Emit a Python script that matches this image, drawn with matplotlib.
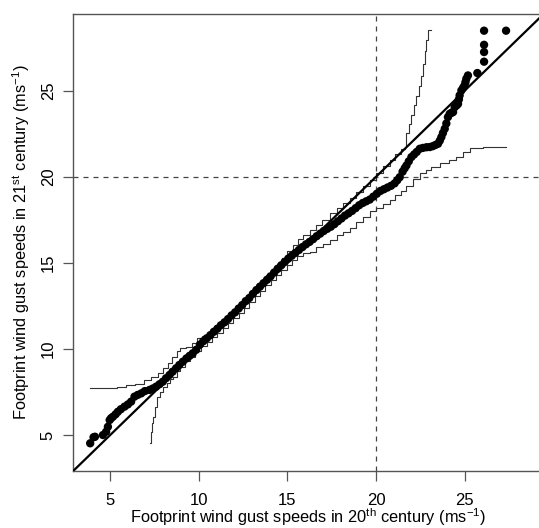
import matplotlib
matplotlib.use("Agg")
import matplotlib.pyplot as plt

plt.rcParams['font.family'] = ['Liberation Sans', 'DejaVu Sans']
plt.rcParams['mathtext.fontset'] = 'custom'
plt.rcParams['mathtext.rm'] = 'Liberation Sans'
plt.rcParams['mathtext.it'] = 'Liberation Sans:italic'

# QQ points (20th century quantiles vs 21st century quantiles)
qq_x = [3.87, 4.06, 4.14, 4.59, 4.77, 4.87, 4.97, 5.05, 5.15, 5.30, 5.43, 5.60, 5.81, 6.00,
        6.18, 6.37, 6.55, 6.75, 6.95, 7.22, 7.40, 7.59, 7.78, 7.97, 8.15, 8.35, 8.52, 8.72,
        8.90, 9.10, 9.30, 9.48, 9.66, 9.85, 10.06,
        10.25, 10.45, 10.65, 10.85, 11.05, 11.25, 11.45, 11.65, 11.85, 12.05, 12.25, 12.45,
        12.65, 12.85, 13.05, 13.25, 13.45, 13.65, 13.85, 14.05, 14.25, 14.45, 14.65, 14.85,
        15.05, 15.25, 15.45, 15.65, 15.85, 16.05, 16.25, 16.45, 16.65, 16.85, 17.05,
        17.25, 17.45, 17.65, 17.85, 18.05, 18.25, 18.45, 18.65, 18.85, 19.05, 19.25, 19.45,
        19.65, 19.85, 20.05, 20.25, 20.45, 20.65, 20.85, 21.05, 21.20, 21.34, 21.50, 21.62,
        21.72, 21.85, 22.00, 22.15, 22.30, 22.47, 22.65, 22.85, 23.03, 23.20, 23.35, 23.50,
        23.60, 23.69, 23.78, 23.88, 23.97, 24.06, 24.16, 24.26, 24.35, 24.44, 24.55, 24.63,
        24.68, 24.72, 24.82, 24.92, 25.00, 25.05, 25.10, 25.19, 25.72, 26.10, 26.10, 26.10,
        26.10, 27.34]
qq_y = [4.52, 4.87, 4.90, 5.00, 5.19, 5.48, 5.87, 5.98, 6.06, 6.20, 6.35, 6.50, 6.65, 6.78,
        6.94, 7.23, 7.33, 7.42, 7.55, 7.62, 7.70, 7.81, 7.95, 8.10, 8.30, 8.49, 8.68, 8.88,
        9.07, 9.26, 9.45, 9.60, 9.75, 9.95, 10.25,
        10.45, 10.62, 10.80, 11.00, 11.18, 11.38, 11.55, 11.74, 11.95, 12.13, 12.35, 12.55,
        12.78, 12.96, 13.20, 13.42, 13.62, 13.82, 14.02, 14.22, 14.44, 14.66, 14.86, 15.06,
        15.25, 15.42, 15.58, 15.75, 15.92, 16.08, 16.22, 16.38, 16.55, 16.70, 16.85,
        16.98, 17.10, 17.25, 17.42, 17.58, 17.75, 17.88, 18.02, 18.18, 18.35, 18.48, 18.58,
        18.68, 18.85, 19.02, 19.18, 19.28, 19.38, 19.48, 19.62, 19.80, 19.98, 20.30, 20.50,
        20.66, 20.90, 21.15, 21.30, 21.45, 21.63, 21.68, 21.72, 21.73, 21.78, 21.85, 21.92,
        22.10, 22.31, 22.55, 22.79, 23.10, 23.47, 23.66, 23.72, 23.76, 24.05, 24.15, 24.24,
        24.50, 24.73, 25.02, 25.18, 25.31, 25.50, 25.70, 25.89, 26.03, 26.69, 27.25, 27.67,
        28.49, 28.49]

# Upper envelope (step line)
up_x = [3.86, 4.60, 5.40, 5.90, 6.40, 6.90, 7.30, 7.70, 8.00, 8.25, 8.50, 8.75, 8.95, 9.30,
        9.60, 9.90, 10.20, 10.50, 10.80, 11.10, 11.40, 11.70, 12.00, 12.30, 12.60, 12.90,
        13.20, 13.50, 13.80, 14.10, 14.40, 14.70, 15.00, 15.30, 15.60, 15.90, 16.26, 16.60,
        16.95, 17.39, 17.80, 18.15, 18.52, 18.90, 19.25, 19.64, 20.00, 20.40, 20.77, 21.10,
        21.40, 21.62, 21.72, 21.85, 22.00, 22.15, 22.28, 22.42, 22.56, 22.66, 22.75, 22.85,
        22.94, 23.13]
up_y = [7.71, 7.74, 7.80, 7.88, 7.95, 8.20, 8.40, 8.62, 8.90, 9.20, 9.55, 9.90, 10.05, 10.13,
        10.35, 10.62, 10.78, 10.95, 11.22, 11.48, 11.72, 12.02, 12.30, 12.62, 12.95, 13.30,
        13.62, 13.95, 14.28, 14.58, 14.92, 15.30, 15.70, 16.05, 16.40, 16.62, 16.92, 17.22,
        17.50, 17.89, 18.20, 18.48, 18.76, 19.10, 19.45, 19.83, 20.22, 20.62, 21.00, 21.30,
        21.60, 21.76, 22.54, 23.05, 23.60, 24.15, 24.67, 25.25, 25.84, 26.55, 27.29, 27.95,
        28.55, 28.55]

# Lower envelope (step line)
lo_x = [7.24, 7.28, 7.35, 7.43, 7.50, 7.62, 7.80, 8.00, 8.18, 8.40, 8.55, 8.75, 8.93, 9.20,
        9.50, 9.80, 10.10, 10.45, 10.75, 11.05, 11.35, 11.65, 11.95, 12.25, 12.55, 12.85,
        13.15, 13.45, 13.75, 14.05, 14.35, 14.65, 14.95, 15.25, 15.55, 15.90, 16.26, 16.60,
        17.00, 17.39, 17.80, 18.15, 18.52, 18.90, 19.25, 19.64, 20.00, 20.40, 20.77, 21.10,
        21.40, 21.72, 22.10, 22.47, 22.80, 23.10, 23.60, 24.10, 24.54, 24.90, 25.29, 26.04,
        27.36]
lo_y = [4.52, 5.19, 5.70, 6.06, 6.65, 7.23, 7.52, 7.80, 8.00, 8.25, 8.39, 8.70, 8.97, 9.28,
        9.55, 9.90, 10.15, 10.40, 10.68, 10.95, 11.22, 11.50, 11.80, 12.10, 12.40, 12.72,
        13.05, 13.38, 13.70, 14.02, 14.32, 14.60, 14.90, 15.18, 15.40, 15.55, 15.66, 15.90,
        16.12, 16.34, 16.60, 16.82, 17.02, 17.35, 17.68, 18.00, 18.20, 18.45, 18.66, 18.92,
        19.20, 19.44, 19.85, 20.21, 20.40, 20.60, 20.80, 21.00, 21.18, 21.45, 21.67, 21.76,
        21.76]

x_ticks = [5, 10, 15, 20, 25]
y_ticks = [5, 10, 15, 20, 25]
threshold = 20

fig = plt.figure(figsize=(5.39, 5.28), dpi=100)
ax = fig.add_axes([73/539, 1 - 471/528, 1 - 73/539, (471 - 14)/528])

ax.set_xlim(2.9, 29.2)
ax.set_ylim(2.91, 29.46)

ax.plot(up_x, up_y, drawstyle='steps-post', color='#333333', lw=0.8, zorder=2)
ax.plot(lo_x, lo_y, drawstyle='steps-post', color='#333333', lw=0.8, zorder=2)
ax.scatter(qq_x, qq_y, s=36, color='black', edgecolors='none', zorder=3)
ax.plot([0, 40], [0, 40], color='black', lw=1.6, zorder=4)
ax.axvline(threshold, color='#444444', lw=0.9, dashes=(4, 4), zorder=1)
ax.axhline(threshold, color='#444444', lw=0.9, dashes=(4, 4), zorder=1)

ax.spines['right'].set_visible(False)
for s in ['left', 'top', 'bottom']:
    ax.spines[s].set_color('#555555')
    ax.spines[s].set_linewidth(1.0)

ax.set_xticks(x_ticks)
ax.set_yticks(y_ticks)
ax.tick_params(axis='both', direction='out', length=7.5, width=0.9, color='#555555',
               labelsize=12)
ax.tick_params(axis='x', pad=8)
ax.tick_params(axis='y', pad=5)
for lab in ax.get_yticklabels():
    lab.set_rotation(90)
    lab.set_va('center')

ax.set_xlabel(r'Footprint wind gust speeds in 20$^{\mathrm{th}}$ century (ms$^{-1}$)', fontsize=11.8)
ax.set_ylabel(r'Footprint wind gust speeds in 21$^{\mathrm{st}}$ century (ms$^{-1}$)', fontsize=11.8)
ax.xaxis.set_label_coords((308 - 73) / 466, -(517 - 471) / 457)
ax.xaxis.label.set_va('center')
ax.yaxis.set_label_coords(-(73 - 21) / 466, 0.5)
ax.yaxis.label.set_va('center')

fig.savefig('out.png', dpi=100)
